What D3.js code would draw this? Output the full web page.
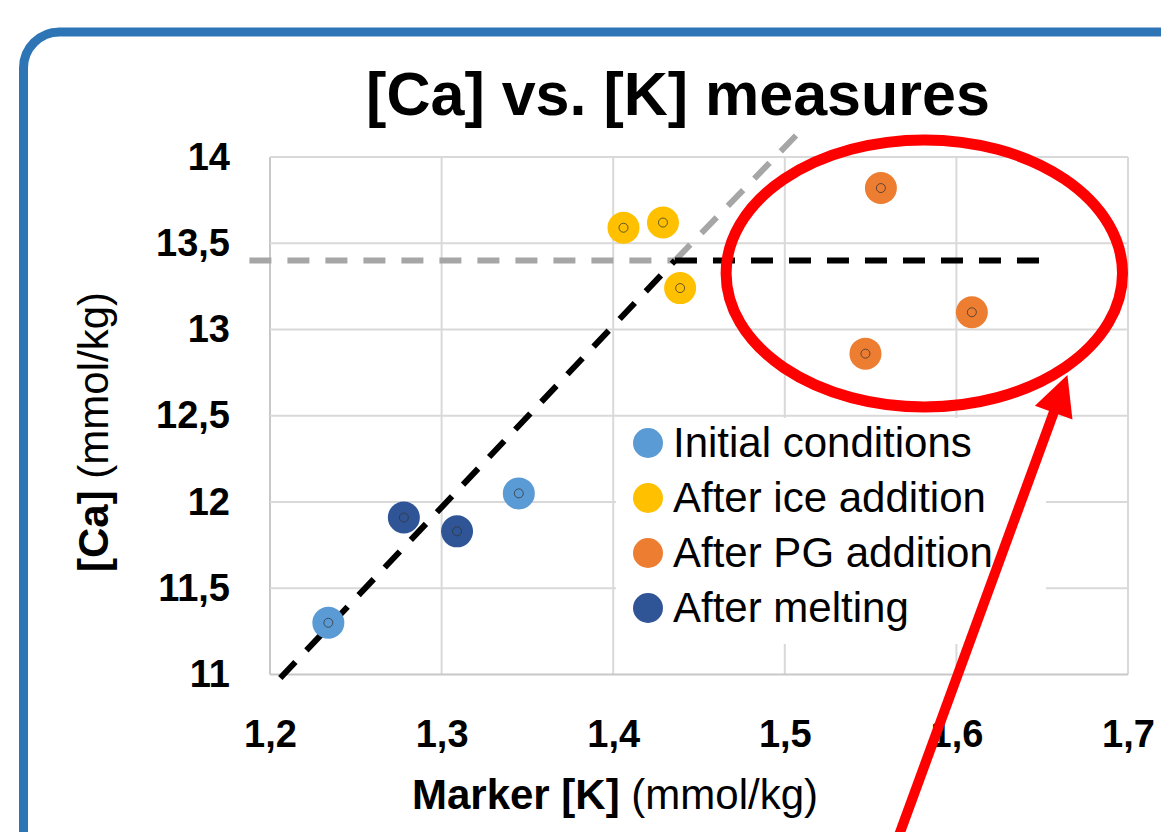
<!DOCTYPE html>
<html>
<head>
<meta charset="utf-8">
<script src="https://cdn.jsdelivr.net/npm/d3@7"></script>
<style>
  html, body { margin: 0; padding: 0; background: #ffffff; }
  svg { display: block; }
</style>
</head>
<body>
<svg id="chart" width="1161" height="832"></svg>
<script>
// series
const seriesNames = ["Initial conditions", "After ice addition", "After PG addition", "After melting"];
const seriesColors = ["#5B9BD5", "#FFC000", "#ED7D31", "#2F5597"];

const initialK = [1.234, 1.345];
const initialCa = [11.30, 12.05];
const iceK = [1.406, 1.429, 1.439];
const iceCa = [13.59, 13.62, 13.24];
const pgK = [1.556, 1.547, 1.609];
const pgCa = [13.82, 12.86, 13.10];
const meltK = [1.278, 1.309];
const meltCa = [11.91, 11.83];

// trend lines (dashed)
const slopeK = [1.206, 1.436];
const slopeCa = [10.98, 13.40];
const slopeExtK = [1.436, 1.510];
const slopeExtCa = [13.40, 14.16];
const plateauK = [1.436, 1.652];
const plateauCa = [13.40, 13.40];
const plateauExtK = [1.188, 1.436];
const plateauExtCa = [13.40, 13.40];

// annotation: red ellipse and arrow, in data units
const ellipseCenter = [1.5813, 13.325];
const ellipseRadius = [0.1155, 0.774];
const arrowTail = [1.5644, 10.01];
const arrowTip = [1.6647, 12.736];

const xTicks = [1.2, 1.3, 1.4, 1.5, 1.6, 1.7];
const yTicks = [11, 11.5, 12, 12.5, 13, 13.5, 14];

function drawScatter(svgId) {
  let svg = d3.select(svgId);
  let fontFamily = "'Liberation Sans', Arial, sans-serif";
  let gridColor = "#D9D9D9";
  let axisColor = "#C8C8C8";
  let borderColor = "#2E75B6";

  let left = 270, right = 1128, top = 157, bottom = 674.5;

  let x = d3.scaleLinear().domain([1.2, 1.7]).range([left, right]);
  let y = d3.scaleLinear().domain([11, 14]).range([bottom, top]);

  let comma = d3.formatLocale({decimal: ",", thousands: ".", grouping: [3], currency: ["", ""]}).format("~g");

  // frame round the whole chart
  svg.append("rect")
    .attr("x", 23.5).attr("y", 32)
    .attr("width", 1200).attr("height", 900)
    .attr("rx", 36).attr("ry", 36)
    .attr("fill", "none")
    .attr("stroke", borderColor)
    .attr("stroke-width", 9);

  // title
  svg.append("text")
    .attr("x", 678).attr("y", 115)
    .attr("text-anchor", "middle")
    .style("font-family", fontFamily)
    .style("font-weight", "bold")
    .style("font-size", "61px")
    .text("[Ca] vs. [K] measures");

  // grid
  svg.append("g").selectAll("line")
    .data(xTicks)
    .enter().append("line")
    .attr("x1", d => x(d)).attr("x2", d => x(d))
    .attr("y1", top).attr("y2", bottom)
    .attr("stroke", (d, i) => i == 0 ? axisColor : gridColor)
    .attr("stroke-width", 2);

  svg.append("g").selectAll("line")
    .data(yTicks)
    .enter().append("line")
    .attr("x1", left).attr("x2", right)
    .attr("y1", d => y(d)).attr("y2", d => y(d))
    .attr("stroke", (d, i) => i == 0 ? axisColor : gridColor)
    .attr("stroke-width", 2);

  // axes (labels only)
  let xAxis = svg.append("g")
    .attr("transform", "translate(0," + bottom + ")")
    .call(d3.axisBottom(x).tickValues(xTicks).tickFormat(comma).tickSize(0).tickPadding(46));
  xAxis.select(".domain").remove();
  xAxis.selectAll("text")
    .style("font-family", fontFamily)
    .style("font-weight", "bold")
    .style("font-size", "38px")
    .attr("fill", "#000");

  let yAxis = svg.append("g")
    .attr("transform", "translate(" + left + ",0)")
    .call(d3.axisLeft(y).tickValues(yTicks).tickFormat(comma).tickSize(0).tickPadding(40));
  yAxis.select(".domain").remove();
  yAxis.selectAll("text")
    .style("font-family", fontFamily)
    .style("font-weight", "bold")
    .style("font-size", "38px")
    .attr("fill", "#000");

  // axis titles
  let xTitle = svg.append("text")
    .attr("x", 615).attr("y", 809)
    .attr("text-anchor", "middle")
    .style("font-family", fontFamily)
    .style("font-size", "42px");
  xTitle.append("tspan").style("font-weight", "bold").text("Marker [K]");
  xTitle.append("tspan").text(" (mmol/kg)");

  let yTitle = svg.append("text")
    .attr("transform", "translate(108,432) rotate(-90)")
    .attr("text-anchor", "middle")
    .style("font-family", fontFamily)
    .style("font-size", "42px");
  yTitle.append("tspan").style("font-weight", "bold").text("[Ca]");
  yTitle.append("tspan").text(" (mmol/kg)");

  // legend background hides the grid
  svg.append("rect")
    .attr("x", 616).attr("y", 418)
    .attr("width", 430).attr("height", 226)
    .attr("fill", "#fff");

  // dashed trend lines
  let line = d3.line().x(d => x(d[0])).y(d => y(d[1]));
  let dashed = [
    {k: plateauExtK, ca: plateauExtCa, color: "#A6A6A6"},
    {k: slopeExtK, ca: slopeExtCa, color: "#A6A6A6"},
    {k: slopeK, ca: slopeCa, color: "#000"},
    {k: plateauK, ca: plateauCa, color: "#000"}
  ];
  svg.append("g").selectAll("path")
    .data(dashed)
    .enter().append("path")
    .attr("d", d => line(d3.zip(d.k, d.ca)))
    .attr("fill", "none")
    .attr("stroke", d => d.color)
    .attr("stroke-width", 6)
    .attr("stroke-dasharray", "22,16");

  // points
  let series = [
    d3.zip(initialK, initialCa),
    d3.zip(iceK, iceCa),
    d3.zip(pgK, pgCa),
    d3.zip(meltK, meltCa)
  ];
  series.forEach(function(pts, i) {
    let g = svg.append("g");
    g.selectAll(".dot")
      .data(pts)
      .enter().append("circle")
      .attr("cx", d => x(d[0])).attr("cy", d => y(d[1]))
      .attr("r", 16)
      .attr("fill", seriesColors[i]);
    g.selectAll(".inner")
      .data(pts)
      .enter().append("circle")
      .attr("cx", d => x(d[0])).attr("cy", d => y(d[1]))
      .attr("r", 4.5)
      .attr("fill", "none")
      .attr("stroke", "#333")
      .attr("stroke-opacity", 0.75)
      .attr("stroke-width", 1);
  });

  // legend
  let legend = svg.append("g").selectAll("g")
    .data(seriesNames)
    .enter().append("g")
    .attr("transform", (d, i) => "translate(0," + (i * 55) + ")");
  legend.append("circle")
    .attr("cx", 648).attr("cy", 443)
    .attr("r", 15)
    .attr("fill", (d, i) => seriesColors[i]);
  legend.append("text")
    .attr("x", 673).attr("y", 457)
    .style("font-family", fontFamily)
    .style("font-size", "42px")
    .text(d => d);

  // red callout
  let red = "#FF0000";
  svg.append("ellipse")
    .attr("cx", x(ellipseCenter[0])).attr("cy", y(ellipseCenter[1]))
    .attr("rx", x(ellipseCenter[0] + ellipseRadius[0]) - x(ellipseCenter[0]))
    .attr("ry", y(ellipseCenter[1]) - y(ellipseCenter[1] + ellipseRadius[1]))
    .attr("fill", "none")
    .attr("stroke", red)
    .attr("stroke-width", 11);

  let tx = x(arrowTip[0]), ty = y(arrowTip[1]);
  let sx = x(arrowTail[0]), sy = y(arrowTail[1]);
  let len = Math.hypot(tx - sx, ty - sy);
  let ux = (tx - sx) / len, uy = (ty - sy) / len;
  let headLen = 40, headHalf = 20;
  let bx = tx - headLen * ux, by = ty - headLen * uy;

  svg.append("line")
    .attr("x1", sx).attr("y1", sy)
    .attr("x2", bx + 2 * ux).attr("y2", by + 2 * uy)
    .attr("stroke", red)
    .attr("stroke-width", 10);
  svg.append("path")
    .attr("d", "M" + tx + "," + ty +
      "L" + (bx - headHalf * uy) + "," + (by + headHalf * ux) +
      "L" + (bx + headHalf * uy) + "," + (by - headHalf * ux) + "Z")
    .attr("fill", red);
}

drawScatter("#chart");
</script>
</body>
</html>
